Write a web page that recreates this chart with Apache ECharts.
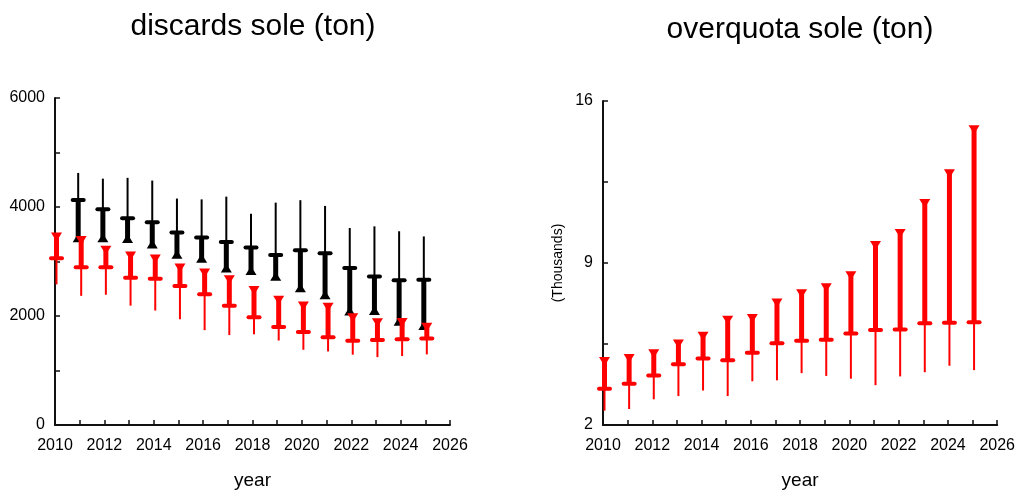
<!DOCTYPE html>
<html>
<head>
<meta charset="utf-8">
<script src="https://cdn.jsdelivr.net/npm/echarts@6/dist/echarts.min.js"></script>
<style>
html,body{margin:0;padding:0;background:#fff;}
#chart{width:1018px;height:495px;}
</style>
</head>
<body>
<div id="chart"></div>
<script>
// ---- data ----
const years = [2010,2011,2012,2013,2014,2015,2016,2017,2018,2019,2020,2021,2022,2023,2024,2025];

// discards sole (ton) - red series: triangle (upper), median, lower whisker
const discRedTri = [3450,3385,3205,3100,3045,2880,2790,2665,2470,2290,2185,2160,1970,1875,1880,1795];
const discRedMed = [3060,2895,2895,2700,2685,2550,2400,2190,1975,1800,1705,1610,1545,1560,1575,1588];
const discRedLow = [2580,2370,2390,2190,2100,1940,1740,1650,1665,1550,1380,1350,1290,1245,1265,1295];

// discards sole (ton) - black series: triangle (lower), median, upper whisker
const discBlackTri = [null,3435,3435,3420,3320,3135,3060,2880,2835,2730,2520,2390,2090,2100,1905,1825];
const discBlackMed = [null,4130,3960,3795,3720,3530,3440,3360,3255,3120,3205,3150,2880,2725,2655,2665];
const discBlackTop = [null,4625,4520,4535,4485,4155,4140,4190,3875,4080,4125,4020,3615,3645,3555,3460];

// overquota sole (thousand ton): triangle (upper), median, lower whisker
const overTri = [4.74,4.87,5.08,5.50,5.84,6.53,6.60,7.27,7.67,7.93,8.45,9.76,10.27,11.57,12.86,14.76];
const overMed = [3.57,3.78,4.14,4.63,4.87,4.80,5.12,5.53,5.64,5.68,5.95,6.10,6.13,6.40,6.42,6.44];
const overLow = [2.62,2.69,3.11,3.25,3.49,3.25,3.89,3.93,4.24,4.12,4.00,3.72,4.10,4.28,4.56,4.37];

const leftYTicks = [0, 6000, 2000];   // min, max, interval
const rightYTicks = [2, 16, 7];
const xTicks = [2010, 2026, 2];

// ---- build ----
function rows(tri, med, ext) {
  return years.map((y, i) => [y, tri[i], med[i], ext[i]]).filter(r => r[1] != null);
}

function render(color, dx, down) {
  return function (params, api) {
    const pT = api.coord([api.value(0), api.value(1)]);
    const pM = api.coord([api.value(0), api.value(2)]);
    const pE = api.coord([api.value(0), api.value(3)]);
    const x = pT[0] + dx;
    const w = 11, h = 9;
    const ty = pT[1];
    const tri = down
      ? [[x - w / 2, ty - h / 2], [x + w / 2, ty - h / 2], [x, ty + h / 2]]
      : [[x - w / 2, ty + h / 2], [x + w / 2, ty + h / 2], [x, ty - h / 2]];
    return {
      type: 'group',
      children: [
        { type: 'line', shape: { x1: x, y1: pM[1], x2: x, y2: pE[1] }, style: { stroke: color, lineWidth: 2 } },
        { type: 'line', shape: { x1: x, y1: pM[1], x2: x, y2: ty }, style: { stroke: color, lineWidth: 5 } },
        { type: 'line', shape: { x1: x - 5.5, y1: pM[1], x2: x + 5.5, y2: pM[1] }, style: { stroke: color, lineWidth: 4, lineCap: 'round' } },
        { type: 'polygon', shape: { points: tri }, style: { fill: color } }
      ]
    };
  };
}

const FONT = '"Liberation Sans", Arial, sans-serif';
const axisLine = { show: true, onZero: false, lineStyle: { color: '#111', width: 2 } };
const tick = { show: true, inside: true, length: 5, lineStyle: { color: '#111', width: 1.5 } };
const minor = { show: true, splitNumber: 2, length: 5, lineStyle: { color: '#111', width: 1.5 } };
const lab = { color: '#000', fontSize: 16, fontFamily: FONT, formatter: v => String(v) };

function xAxis(gi) {
  return {
    type: 'value', gridIndex: gi, min: xTicks[0], max: xTicks[1], interval: xTicks[2],
    axisLine, axisTick: tick, minorTick: minor,
    splitLine: { show: false }, minorSplitLine: { show: false },
    axisLabel: Object.assign({ margin: 13 }, lab),
    name: 'year', nameLocation: 'middle', nameGap: 46,
    nameTextStyle: { color: '#000', fontSize: 19, fontFamily: FONT }
  };
}

const option = {
  animation: false,
  backgroundColor: '#fff',
  grid: [
    { left: 55, top: 98, width: 395, height: 332, containLabel: false },
    { left: 603, top: 101, width: 395, height: 332, containLabel: false }
  ],
  graphic: [
    { type: 'text', x: 253, y: 27, style: { text: 'discards sole (ton)', font: '30px ' + FONT, fill: '#000', textAlign: 'center', textVerticalAlign: 'middle' } },
    { type: 'text', x: 800, y: 30, style: { text: 'overquota sole (ton)', font: '30px ' + FONT, fill: '#000', textAlign: 'center', textVerticalAlign: 'middle' } }
  ],
  xAxis: [xAxis(0), xAxis(1)],
  yAxis: [
    {
      type: 'value', gridIndex: 0, min: leftYTicks[0], max: leftYTicks[1], interval: leftYTicks[2],
      axisLine, axisTick: tick, minorTick: minor,
      splitLine: { show: false }, minorSplitLine: { show: false },
      axisLabel: Object.assign({ margin: 10 }, lab)
    },
    {
      type: 'value', gridIndex: 1, min: rightYTicks[0], max: rightYTicks[1], interval: rightYTicks[2],
      axisLine, axisTick: tick, minorTick: minor,
      splitLine: { show: false }, minorSplitLine: { show: false },
      axisLabel: Object.assign({ margin: 10 }, lab),
      name: '(Thousands)', nameLocation: 'middle', nameGap: 38,
      nameTextStyle: { color: '#000', fontSize: 14, fontFamily: FONT }
    }
  ],
  series: [
    {
      type: 'custom', xAxisIndex: 0, yAxisIndex: 0, clip: false,
      renderItem: render('#000000', -1.5, false),
      encode: { x: 0, y: [1, 2, 3] },
      data: rows(discBlackTri, discBlackMed, discBlackTop)
    },
    {
      type: 'custom', xAxisIndex: 0, yAxisIndex: 0, clip: false,
      renderItem: render('#ff0000', 1.5, true),
      encode: { x: 0, y: [1, 2, 3] },
      data: rows(discRedTri, discRedMed, discRedLow)
    },
    {
      type: 'custom', xAxisIndex: 1, yAxisIndex: 1, clip: false,
      renderItem: render('#ff0000', 1.5, true),
      encode: { x: 0, y: [1, 2, 3] },
      data: rows(overTri, overMed, overLow)
    }
  ]
};

const chart = echarts.init(document.getElementById('chart'), null, { renderer: 'canvas' });
chart.setOption(option);
</script>
</body>
</html>
